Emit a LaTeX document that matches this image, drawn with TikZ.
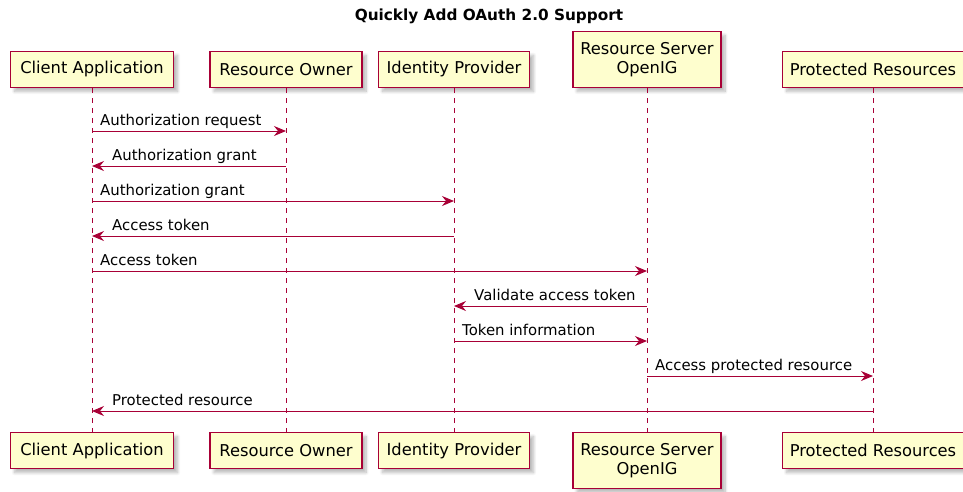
\documentclass[tikz,border=0pt]{standalone}
\usepackage{fontspec}
\setmainfont{DejaVu Sans}
\usetikzlibrary{positioning,arrows.meta,shadows.blur}
\definecolor{umlred}{HTML}{A80036}
\definecolor{umlfill}{HTML}{FEFECE}

\begin{document}
\begin{tikzpicture}[x=1pt, y=-1pt,
    partbox/.style={draw=umlred, fill=umlfill, line width=1.2pt, minimum height=36pt,
        inner sep=0pt, align=center, font=\fontsize{16.3}{19.5}\selectfont,
        blur shadow={shadow xshift=4pt, shadow yshift=-4pt, shadow blur radius=3pt,
            shadow blur steps=10, shadow opacity=28}},
    lifeline/.style={draw=umlred, line width=0.9pt, dash pattern=on 5pt off 5pt},
    msg/.style={draw=umlred, line width=1pt, -{Stealth[length=12pt,width=10pt,inset=4pt]}},
    lbl/.style={anchor=base west, inner sep=0pt, font=\fontsize{14.9}{18}\selectfont}]
\useasboundingbox (0,0) rectangle (963,491);

\node[anchor=base, font=\fontsize{15.3}{18}\selectfont\bfseries] (title) at (489,20) {Quickly Add OAuth 2.0 Support};

% participants, top row
\node[partbox, anchor=south, minimum width=163pt] (client) at (92,88) {Client Application};
\node[partbox, anchor=south, minimum width=152pt] (owner) at (286,88) {Resource Owner};
\node[partbox, anchor=south, minimum width=151pt] (idp) at (454,88) {Identity Provider};
\node[partbox, anchor=south, minimum width=148pt, minimum height=56pt] (rs) at (647,88) {Resource Server\\OpenIG};
\node[partbox, anchor=south, minimum width=181pt] (prot) at (873,88) {Protected Resources};

% participants, bottom row
\node[partbox, below=344pt of client, minimum width=163pt] (client2) {Client Application};
\node[partbox, below=344pt of owner, minimum width=152pt] (owner2) {Resource Owner};
\node[partbox, below=344pt of idp, minimum width=151pt] (idp2) {Identity Provider};
\node[partbox, below=344pt of rs, minimum width=148pt, minimum height=56pt] (rs2) {Resource Server\\OpenIG};
\node[partbox, below=344pt of prot, minimum width=181pt] (prot2) {Protected Resources};

% lifelines
\draw[lifeline] (client) -- (client2);
\draw[lifeline] (owner) -- (owner2);
\draw[lifeline] (idp) -- (idp2);
\draw[lifeline] (rs) -- (rs2);
\draw[lifeline] (prot) -- (prot2);

% message rows
\coordinate (m1) at (0,131);
\coordinate (m2) at (0,166);
\coordinate (m3) at (0,201);
\coordinate (m4) at (0,236);
\coordinate (m5) at (0,271);
\coordinate (m6) at (0,306);
\coordinate (m7) at (0,341);
\coordinate (m8) at (0,376);
\coordinate (m9) at (0,411);

\draw[msg] (client |- m1) -- (owner |- m1);
\node[lbl] (l1) at ([xshift=8pt, yshift=6pt]client |- m1) {Authorization request};
\draw[msg] (owner |- m2) -- (client |- m2);
\node[lbl] (l2) at ([xshift=20pt, yshift=6pt]client |- m2) {Authorization grant};
\draw[msg] (client |- m3) -- (idp |- m3);
\node[lbl] (l3) at ([xshift=8pt, yshift=6pt]client |- m3) {Authorization grant};
\draw[msg] (idp |- m4) -- (client |- m4);
\node[lbl] (l4) at ([xshift=20pt, yshift=6pt]client |- m4) {Access token};
\draw[msg] (client |- m5) -- (rs |- m5);
\node[lbl] (l5) at ([xshift=8pt, yshift=6pt]client |- m5) {Access token};
\draw[msg] (rs |- m6) -- (idp |- m6);
\node[lbl] (l6) at ([xshift=20pt, yshift=6pt]idp |- m6) {Validate access token};
\draw[msg] (idp |- m7) -- (rs |- m7);
\node[lbl] (l7) at ([xshift=8pt, yshift=6pt]idp |- m7) {Token information};
\draw[msg] (rs |- m8) -- (prot |- m8);
\node[lbl] (l8) at ([xshift=8pt, yshift=6pt]rs |- m8) {Access protected resource};
\draw[msg] (prot |- m9) -- (client |- m9);
\node[lbl] (l9) at ([xshift=20pt, yshift=6pt]client |- m9) {Protected resource};
\end{tikzpicture}
\end{document}
